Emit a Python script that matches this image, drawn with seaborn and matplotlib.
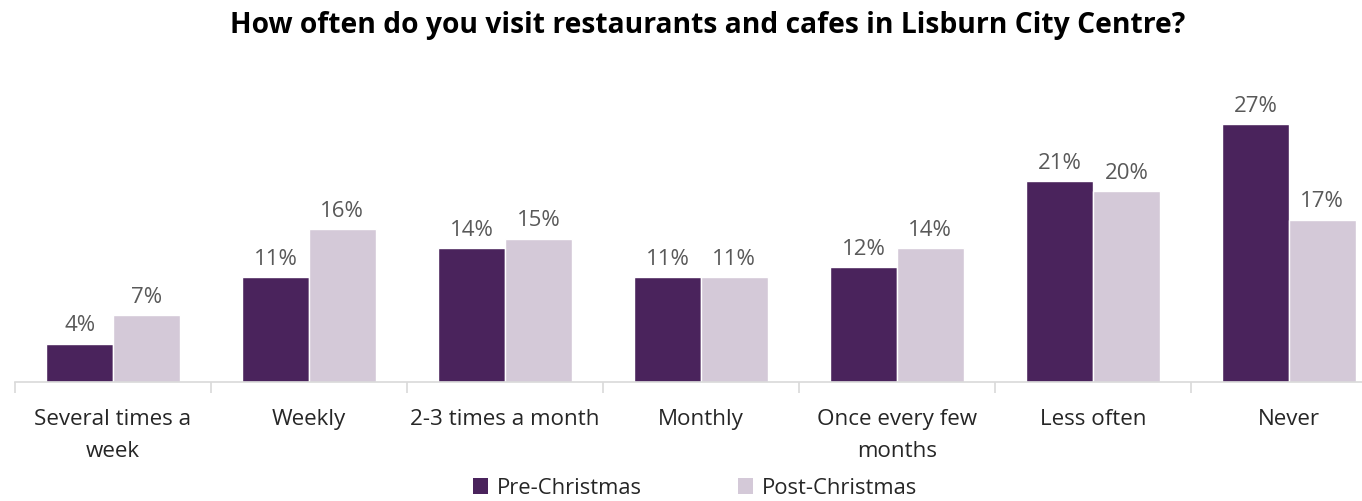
import matplotlib
matplotlib.use("Agg")
import matplotlib.pyplot as plt
from matplotlib.patches import Patch
import seaborn as sns
import pandas as pd
import numpy as np

categories = ["Several times a\nweek", "Weekly", "2-3 times a month", "Monthly",
              "Once every few\nmonths", "Less often", "Never"]
pre_christmas = [4, 11, 14, 11, 12, 21, 27]
post_christmas = [7, 16, 15, 11, 14, 20, 17]
series_names = ["Pre-Christmas", "Post-Christmas"]
colors = ["#4a235c", "#d4c9d8"]

df = pd.DataFrame({
    "category": categories * 2,
    "value": pre_christmas + post_christmas,
    "series": [series_names[0]] * len(categories) + [series_names[1]] * len(categories),
})

sns.set_theme(style="white")
plt.rcParams["font.family"] = ["Open Sans", "DejaVu Sans"]

W, H = 1362, 502
fig = plt.figure(figsize=(W / 100, H / 100), dpi=100)
left_px, right_px, bottom_px = 15, 1387, 383
ax = fig.add_axes([left_px / W, (H - bottom_px) / H, (right_px - left_px) / W, 0.52])

sns.barplot(data=df, x="category", y="value", hue="series", palette=colors,
            width=0.68, saturation=1, ax=ax, legend=False)

ax.set_ylim(0, 30 * 0.52 * H / (258 / 27 * 30))
ax.set_xlim(-0.5, len(categories) - 0.5)

for container in ax.containers:
    ax.bar_label(container, labels=[f"{v:.0f}%" for v in container.datavalues],
                 padding=6, fontsize=16, color="#595959", clip_on=False)

ax.set_xlabel("")
ax.set_ylabel("")
ax.set_yticks([])
for s in ["top", "right", "left"]:
    ax.spines[s].set_visible(False)
ax.spines["bottom"].set_color("#d9d9d9")
ax.spines["bottom"].set_linewidth(1.2)

ax.set_xticks(np.arange(len(categories)))
ax.set_xticklabels(categories, fontsize=16.1, color="#262626", linespacing=1.65)
ax.tick_params(axis="x", length=0, pad=19)
ax.set_xticks(np.arange(len(categories) + 1) - 0.5, minor=True)
ax.tick_params(axis="x", which="minor", length=8, color="#d9d9d9", width=1.2, bottom=True)

fig.text(708 / W, 1 - 25 / H, "How often do you visit restaurants and cafes in Lisburn City Centre?",
         ha="center", va="center", fontsize=20.3, fontweight="bold", color="#000000")

handles = [Patch(facecolor=c, edgecolor="none") for c in colors]
fig.legend(handles, series_names, loc="center", bbox_to_anchor=(695 / W, 1 - 489 / H),
           ncol=2, frameon=False, fontsize=15.8, handlelength=0.7, handleheight=0.7,
           handletextpad=0.4, columnspacing=4.35, labelcolor="#262626")

fig.savefig("out.png", dpi=100, facecolor="white")
